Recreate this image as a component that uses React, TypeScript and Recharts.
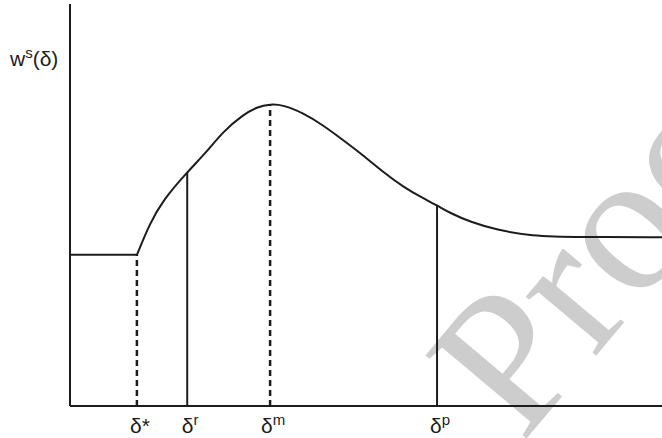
import { Line, LineChart, ReferenceLine, XAxis, YAxis } from 'recharts'

// wage curve w^s(δ): flat floor up to δ*, then hump-shaped
const floorX = [0, 11.3]
const floorY = [37.6, 37.6]

const curveX = [11.3, 13.5, 15.7, 19.8, 23.1, 25.8, 29.2, 31.6, 33.8, 36.0, 39.4, 42.7, 46.1, 49.5, 52.9, 56.3, 59.6, 62.0, 64.2, 67.6, 72.1, 77.7, 86.1, 100]
const curveY = [37.6, 45.5, 51.2, 58.2, 63.2, 68.2, 72.4, 74.4, 75.1, 74.9, 72.9, 69.9, 66.2, 62.4, 58.2, 54.5, 51.7, 49.9, 48.0, 45.8, 43.8, 42.3, 42.0, 42.0]

// thresholds marked on the x axis
const markX = [11.3, 19.8, 33.8, 62.0]
const markSup = ['*', 'r', 'm', 'p']
const markDashed = [true, false, true, false]

const floorData = floorX.map((x, i) => ({ x, y: floorY[i] }))
const curveData = curveX.map((x, i) => ({ x, y: curveY[i] }))
const markTop = markX.map((m) => curveY[curveX.indexOf(m)])

const ink = '#1c1c1c'
const font = '"Liberation Sans", Arial, sans-serif'

function MarkTick({ x, y, payload }: { x: number; y: number; payload: { value: number } }) {
  const i = markX.indexOf(payload.value)
  const sup = markSup[i]
  return (
    <text x={x + 3} y={y + 19} textAnchor="middle" fontFamily={font} fontSize={21} fill={ink}>
      δ
      {sup === '*' ? <tspan>*</tspan> : <tspan dy={-8} fontSize={15}>{sup}</tspan>}
    </text>
  )
}

function YLabel({ viewBox }: { viewBox?: { x: number; y: number } }) {
  if (!viewBox) return null
  return (
    <text x={viewBox.x + 10} y={viewBox.y + 62} fontFamily={font} fontSize={21} fill={ink}>
      w<tspan dy={-8} fontSize={15}>s</tspan>
      <tspan dy={8}>(δ)</tspan>
    </text>
  )
}

export default function App() {
  return (
    <div style={{ position: 'absolute', left: 0, top: 0, width: 662, height: 438, background: '#fff' }}>
      <svg width={662} height={438} style={{ position: 'absolute', left: 0, top: 0 }}>
        <text
          x={0}
          y={0}
          transform="translate(522 444) rotate(-50)"
          fontFamily='"Liberation Serif", serif'
          fontSize={200}
          fill="#cdcdcd"
        >
          Proof
        </text>
      </svg>
      <LineChart
        width={662}
        height={438}
        margin={{ top: 4, right: 0, left: 0, bottom: 0 }}
        style={{ position: 'absolute', left: 0, top: 0 }}
      >
        <XAxis
          type="number"
          dataKey="x"
          domain={[0, 100]}
          ticks={markX}
          tick={MarkTick}
          tickLine={false}
          height={32}
          axisLine={{ stroke: ink, strokeWidth: 2 }}
        />
        <YAxis
          type="number"
          dataKey="y"
          domain={[0, 100]}
          width={70}
          tick={false}
          tickLine={false}
          axisLine={{ stroke: ink, strokeWidth: 2 }}
          label={<YLabel />}
        />
        {markX.map((m, i) => (
          <ReferenceLine
            key={m}
            segment={[
              { x: m, y: 0 },
              { x: m, y: markTop[i] },
            ]}
            stroke={ink}
            strokeWidth={markDashed[i] ? 2.5 : 2}
            strokeDasharray={markDashed[i] ? '6 4' : undefined}
          />
        ))}
        <Line
          data={floorData}
          dataKey="y"
          type="linear"
          stroke={ink}
          strokeWidth={2}
          dot={false}
          isAnimationActive={false}
        />
        <Line
          data={curveData}
          dataKey="y"
          type="basis"
          stroke={ink}
          strokeWidth={2}
          dot={false}
          isAnimationActive={false}
        />
      </LineChart>
    </div>
  )
}
